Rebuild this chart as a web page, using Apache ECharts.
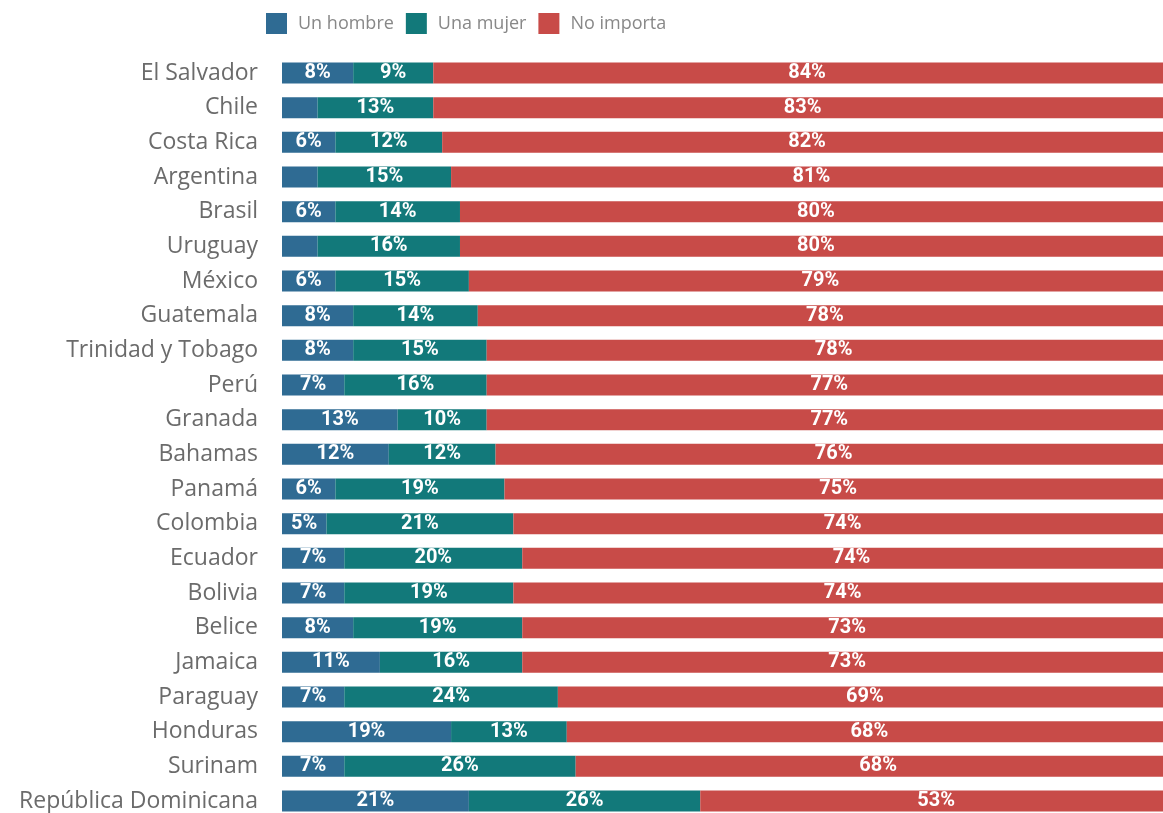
<!DOCTYPE html>
<html>
<head>
<meta charset="utf-8">
<script src="https://cdn.jsdelivr.net/npm/echarts@6/dist/echarts.min.js"></script>
<style>html,body{margin:0;padding:0;background:#fff;}#c{width:1163px;height:813px;}</style>
</head>
<body>
<div id="c"></div>
<script>
const countries = ["El Salvador","Chile","Costa Rica","Argentina","Brasil","Uruguay","México","Guatemala","Trinidad y Tobago","Perú","Granada","Bahamas","Panamá","Colombia","Ecuador","Bolivia","Belice","Jamaica","Paraguay","Honduras","Surinam","República Dominicana"];
const unHombre  = [8,4,6,4,6,4,6,8,8,7,13,12,6,5,7,7,8,11,7,19,7,21];
const unaMujer  = [9,13,12,15,14,16,15,14,15,16,10,12,19,21,20,19,19,16,24,13,26,26];
const noImporta = [84,83,82,81,80,80,79,78,78,77,77,76,75,74,74,74,73,73,69,68,68,53];
const seriesNames = ["Un hombre","Una mujer","No importa"];
const colors = ["#2f6b93","#12797a","#c84b48"];

const chart = echarts.init(document.getElementById('c'), null, {renderer:'canvas'});
const lbl = {
  show: true, position: 'inside', color: '#fff', fontFamily: 'Roboto', fontWeight: 'bold', fontSize: 20,
  formatter: p => p.value >= 5 ? p.value + '%' : ''
};
const data = [unHombre, unaMujer, noImporta];
chart.setOption({
  animation: false,
  backgroundColor: '#fff',
  color: colors,
  legend: {
    top: 8, left: 261, itemWidth: 21, itemHeight: 21, itemGap: 12,
    icon: 'rect',
    textStyle: {color: '#888', fontSize: 18, fontFamily: 'Open Sans', padding: [0, 0, 0, 6]},
    data: seriesNames
  },
  grid: {left: 282, right: 0, top: 73, bottom: 12, containLabel: false},
  xAxis: {type: 'value', min: 0, max: 99, show: false},
  yAxis: {
    type: 'category', data: countries, inverse: true, boundaryGap: false,
    axisLine: {show: false}, axisTick: {show: false}, splitLine: {show: false},
    axisLabel: {color: '#6b6b6b', fontSize: 23, fontFamily: 'Open Sans', margin: 24}
  },
  series: seriesNames.map((n, i) => ({
    name: n, type: 'bar', stack: 'total', barWidth: 21, clip: false,
    data: data[i], label: lbl, itemStyle: {color: colors[i]}
  }))
});
</script>
</body>
</html>
